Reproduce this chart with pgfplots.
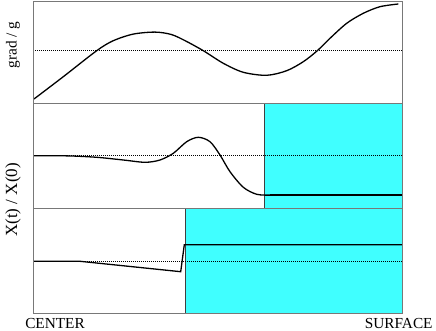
\documentclass[border=0pt]{standalone}
\usepackage{pgfplots}
\pgfplotsset{compat=1.18}
\usepackage{fontspec}
\setmainfont{Liberation Serif}
\definecolor{cyanfill}{RGB}{64,255,255}
\definecolor{framegray}{RGB}{120,120,120}
\pgfplotsset{
  panel/.style={
    scale only axis, width=369.4pt,
    xmin=0, xmax=369.4, ymin=0,
    xtick=\empty, ytick=\empty,
    axis line style={framegray, line width=0.8pt},
    anchor=south west, axis on top,
  },
  curve/.style={black, line width=1.3pt, no markers},
  dline/.style={black, line width=0.5pt, dash pattern=on 0.8pt off 1.2pt, no markers},
  box/.style={fill=cyanfill, draw=black!75, line width=0.6pt},
}
\begin{document}
\begin{tikzpicture}
\useasboundingbox (0,0) rectangle (436pt,331pt);
% top panel
\begin{axis}[panel, at={(33.3pt,227.7pt)}, height=102.3pt, ymax=102.3]
\addplot[dline] coordinates {(0,53.3) (369.4,53.3)};
\addplot[curve, smooth] coordinates {
 (0.7,4.3) (30,26.6) (63.4,52.6) (80,62.6) (100,69.2) (121.7,71.2) (138,68.8)
 (152,62.5) (170,52.6) (190,40) (210,31) (233.4,28) (253.4,32.6) (270,41.6)
 (284,52.6) (296.7,65) (313.4,80) (330,90) (346.7,96.6) (365,99.3)};
\end{axis}
% middle panel
\begin{axis}[panel, at={(33.3pt,122.7pt)}, height=105pt, ymax=105]
\addplot[box] coordinates {(231,0) (369.4,0) (369.4,105) (231,105)} -- cycle;
\addplot[dline] coordinates {(0,52.6) (369.4,52.6)};
\addplot[curve, smooth] coordinates {
 (0.7,52.6) (35,52.4) (63.4,51) (90,48.3) (111.7,46) (126.7,48.3) (140,55)
 (153.4,66.6) (165,71) (176.7,66.6) (186.7,53.3) (196.7,36.6) (210,21)
 (223.4,14) (236.7,13.2)};
\addplot[curve] coordinates {(236.7,13.2) (369.4,13.2)};
\end{axis}
% bottom panel
\begin{axis}[panel, at={(33.3pt,17.7pt)}, height=105pt, ymax=105]
\addplot[box] coordinates {(152,0) (369.4,0) (369.4,105) (152,105)} -- cycle;
\addplot[dline] coordinates {(0,52) (369.4,52)};
\addplot[curve] coordinates {
 (0,52) (46.7,52) (147.4,41.6) (151,68.6) (369.4,68.6)};
\end{axis}
\begin{scope}[font=\fontsize{15.3}{18}\selectfont]
\node[rotate=90] at (13pt,286pt) {grad / g};
\node[rotate=90, font=\fontsize{17}{20}\selectfont] at (13pt,131pt) {X(t) / X(0)};
\node[anchor=base, inner sep=0pt] at (55pt,2.5pt) {CENTER};
\node[anchor=base, inner sep=0pt] at (398.7pt,2.5pt) {SURFACE};
\end{scope}
\end{tikzpicture}
\end{document}
